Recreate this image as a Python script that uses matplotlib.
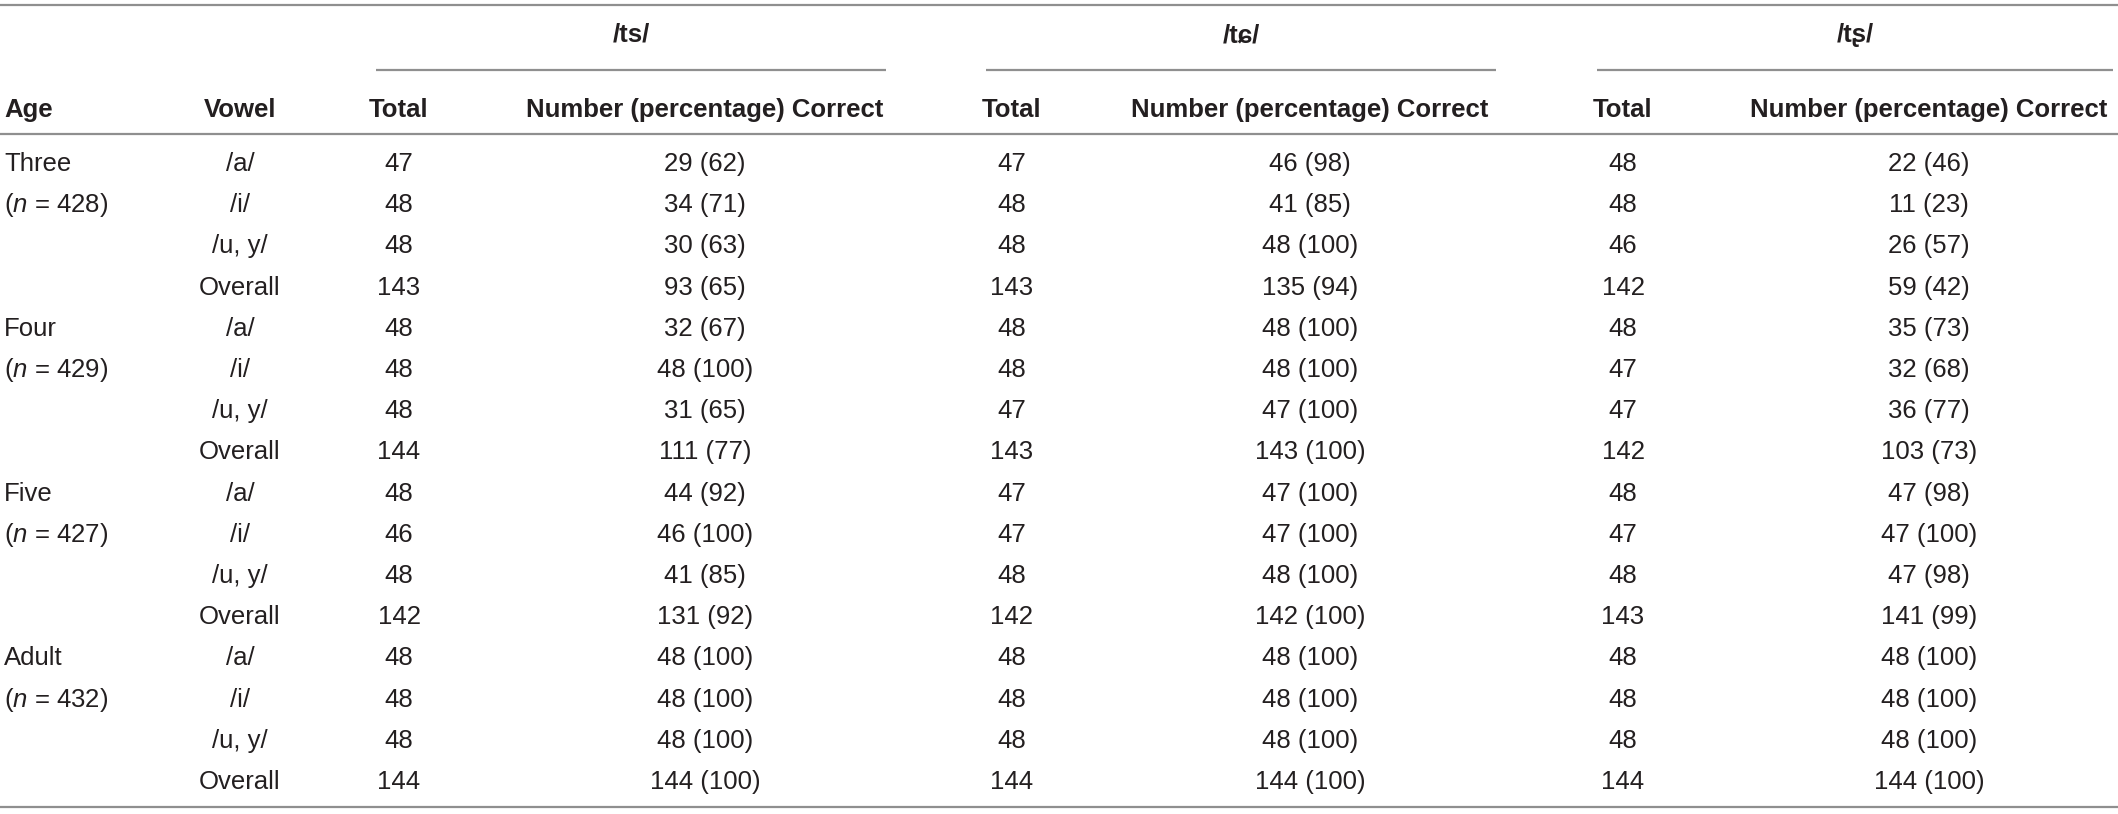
import matplotlib
matplotlib.use("Agg")
import matplotlib.pyplot as plt
from matplotlib import font_manager

# ---------------- data ----------------
ages = ["Three", "Four", "Five", "Adult"]
age_n = [428, 429, 427, 432]
vowels = ["/a/", "/i/", "/u, y/", "Overall"]
groups = ["/ts/", "/tɕ/", "/tʂ/"]
col_headers = ["Age", "Vowel", "Total", "Number (percentage) Correct"]

ts_total = [47, 48, 48, 143, 48, 48, 48, 144, 48, 46, 48, 142, 48, 48, 48, 144]
ts_correct = [29, 34, 30, 93, 32, 48, 31, 111, 44, 46, 41, 131, 48, 48, 48, 144]
ts_pct = [62, 71, 63, 65, 67, 100, 65, 77, 92, 100, 85, 92, 100, 100, 100, 100]

tc_total = [47, 48, 48, 143, 48, 48, 47, 143, 47, 47, 48, 142, 48, 48, 48, 144]
tc_correct = [46, 41, 48, 135, 48, 48, 47, 143, 47, 47, 48, 142, 48, 48, 48, 144]
tc_pct = [98, 85, 100, 94, 100, 100, 100, 100, 100, 100, 100, 100, 100, 100, 100, 100]

tr_total = [48, 48, 46, 142, 48, 47, 47, 142, 48, 47, 48, 143, 48, 48, 48, 144]
tr_correct = [22, 11, 26, 59, 35, 32, 36, 103, 47, 47, 47, 141, 48, 48, 48, 144]
tr_pct = [46, 23, 57, 42, 73, 68, 77, 73, 98, 100, 98, 99, 100, 100, 100, 100]

# ---------------- fonts ----------------
avail = {f.name for f in font_manager.fontManager.ttflist}
FONT = "Liberation Sans" if "Liberation Sans" in avail else "DejaVu Sans"
plt.rcParams["font.family"] = [FONT, "DejaVu Sans"]
plt.rcParams["mathtext.fontset"] = "custom"
plt.rcParams["mathtext.it"] = f"{FONT}:italic"
plt.rcParams["mathtext.rm"] = FONT

W, H = 2118, 814
fig = plt.figure(figsize=(W / 100, H / 100), dpi=100)
ax = fig.add_axes([0, 0, 1, 1])
ax.set_xlim(0, W)
ax.set_ylim(H, 0)
ax.axis("off")

TXT = "#231f20"
LINE = "#8f8f8f"
FS = 18.5
LW = 1.6

# layout (pixel coordinates)
age_x = 4
vowel_x = 240
total_x = [399, 1012, 1623]
num_x = [705, 1310, 1929]
span = [(376, 886), (986, 1496), (1597, 2113)]
y_top, y_group, y_partial, y_head, y_headline = 5, 33, 70, 108, 134
y_row0, dy = 162, 41.2
y_bottom = 807
BASE = 9.0  # offset from visual centre to baseline


def put(x, y, s, ha="center", bold=False, family=None):
    kw = {}
    if family is not None:
        kw["family"] = family
    ax.text(x, y + BASE, s, ha=ha, va="baseline", fontsize=FS, color=TXT,
            fontweight="bold" if bold else "normal", **kw)


# rules
ax.plot([0, W], [y_top, y_top], color=LINE, lw=LW, solid_capstyle="butt")
ax.plot([0, W], [y_headline, y_headline], color=LINE, lw=LW, solid_capstyle="butt")
ax.plot([0, W], [y_bottom, y_bottom], color=LINE, lw=LW, solid_capstyle="butt")
for (a, b) in span:
    ax.plot([a, b], [y_partial, y_partial], color=LINE, lw=LW, solid_capstyle="butt")

# group headers
for g, (a, b) in zip(groups, span):
    put((a + b) / 2, y_group, g, bold=True, family=[FONT, "DejaVu Sans"])

# column headers
put(age_x, y_head, col_headers[0], ha="left", bold=True)
put(vowel_x, y_head, col_headers[1], bold=True)
for k in range(3):
    put(total_x[k], y_head, col_headers[2], bold=True)
    put(num_x[k], y_head, col_headers[3], bold=True)

# body
totals = [ts_total, tc_total, tr_total]
corrects = [ts_correct, tc_correct, tr_correct]
pcts = [ts_pct, tc_pct, tr_pct]
for gi, age in enumerate(ages):
    y0 = y_row0 + gi * 4 * dy
    put(age_x, y0, age, ha="left")
    put(age_x, y0 + dy, r"($\mathit{n}$ = %d)" % age_n[gi], ha="left")
    for vi, v in enumerate(vowels):
        r = gi * 4 + vi
        y = y_row0 + r * dy
        put(vowel_x, y, v)
        for k in range(3):
            put(total_x[k], y, str(totals[k][r]))
            put(num_x[k], y, f"{corrects[k][r]} ({pcts[k][r]})")

fig.savefig("out.png", dpi=100)
